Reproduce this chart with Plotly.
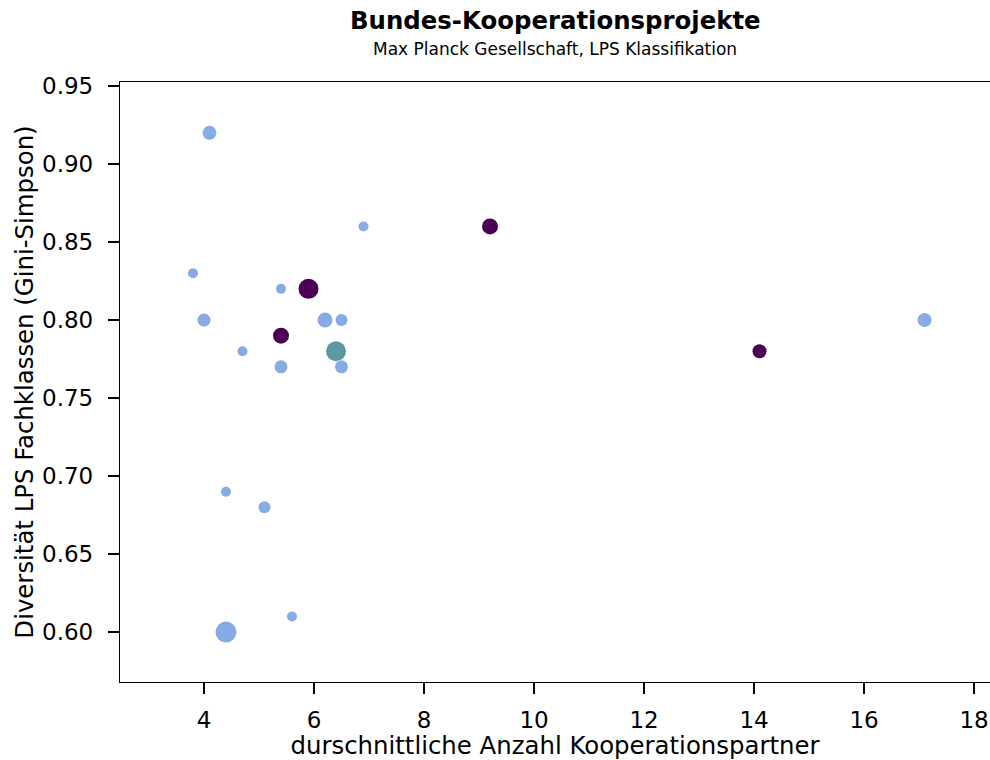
import plotly.graph_objects as go

x_vals = [4.1, 6.9, 9.2, 3.8, 5.4, 5.9, 4.0, 6.2, 6.5, 17.1, 4.7, 5.4, 6.4, 14.1, 5.4, 6.5, 4.4, 5.1, 5.6, 4.4]
y_vals = [0.92, 0.86, 0.86, 0.83, 0.82, 0.82, 0.80, 0.80, 0.80, 0.80, 0.78, 0.79, 0.78, 0.78, 0.77, 0.77, 0.69, 0.68, 0.61, 0.60]
sizes = [14, 10, 16, 10, 10, 20, 13, 15, 12, 14, 10, 16, 20, 14, 13, 13, 10, 12, 10, 21]
groups = ["b", "b", "p", "b", "b", "p", "b", "b", "b", "b", "b", "p", "t", "p", "b", "b", "b", "b", "b", "b"]
group_colors = {"b": "#87ACE5", "p": "#4B0055", "t": "#5F97A3"}

x_ticks = [4, 6, 8, 10, 12, 14, 16, 18]
y_ticks = [0.60, 0.65, 0.70, 0.75, 0.80, 0.85, 0.90, 0.95]

fig = go.Figure()
fig.add_trace(go.Scatter(
    x=x_vals, y=y_vals, mode="markers",
    marker=dict(size=sizes, color=[group_colors[g] for g in groups], line=dict(width=0), opacity=1),
    showlegend=False,
))

font = "DejaVu Sans"
fig.update_layout(
    width=990, height=760,
    margin=dict(l=120, r=0, t=82, b=78),
    plot_bgcolor="white", paper_bgcolor="white",
    font=dict(family=font, color="black", size=23),
    annotations=[
        dict(text="<b>Bundes-Kooperationsprojekte</b>", x=0.5, xref="paper", y=1, yref="paper",
             yanchor="middle", yshift=82 - 20, showarrow=False, font=dict(size=24.4, family=font)),
        dict(text="Max Planck Gesellschaft, LPS Klassifikation", x=0.5, xref="paper", y=1, yref="paper",
             yanchor="middle", yshift=82 - 49, showarrow=False, font=dict(size=17, family=font)),
    ],
)

fig.update_xaxes(
    range=[2.473, 18.29], tickvals=x_ticks, ticks="outside", ticklen=11, tickwidth=1.5,
    tickcolor="black", showline=True, linecolor="black", linewidth=1.3, mirror=True,
    showgrid=False, zeroline=False, tickfont=dict(size=23), ticklabelstandoff=6,
    title=dict(text="durschnittliche Anzahl Kooperationspartner", font=dict(size=24.4), standoff=4),
)
fig.update_yaxes(
    range=[0.568, 0.9526], tickvals=y_ticks, tickformat=".2f", ticks="outside", ticklen=11, tickwidth=1.5,
    tickcolor="black", showline=True, linecolor="black", linewidth=1.3,
    showgrid=False, zeroline=False, tickfont=dict(size=23), ticklabelstandoff=10,
    title=dict(text="Diversität LPS Fachklassen (Gini-Simpson)", font=dict(size=24.4), standoff=1),
)

fig.write_html("out.html")
